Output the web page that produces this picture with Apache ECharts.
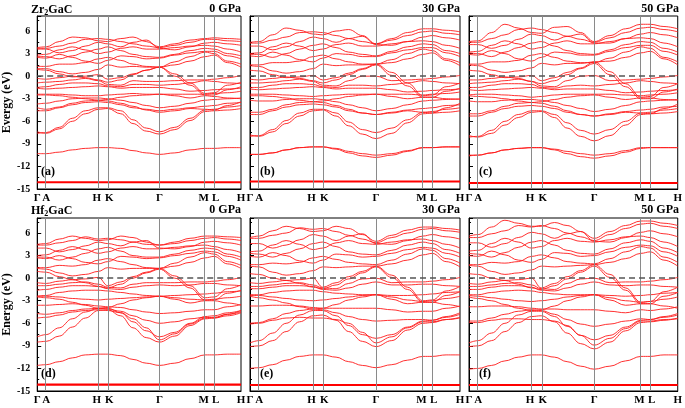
<!DOCTYPE html>
<html><head><meta charset="utf-8">
<script src="https://cdn.jsdelivr.net/npm/echarts@6/dist/echarts.min.js"></script>
<style>html,body{margin:0;padding:0;background:#fff}#c{width:685px;height:408px}</style>
</head><body><div id="c"></div>
<script>
// k-path sample positions (fraction of path) and high-symmetry labels
const kPos = [0, 0.044, 0.108, 0.172, 0.236, 0.30, 0.346, 0.41, 0.47, 0.535, 0.60, 0.675, 0.75, 0.824, 0.868, 0.934, 1.0];
const symPos = [0, 0.044, 0.30, 0.346, 0.60, 0.824, 0.868, 1];
const symLabels = ['Γ', 'A', 'H', 'K', 'Γ', 'M', 'L', 'H'];
const compounds = ['Zr', 'Hf'];
const pressures = ['0 GPa', '30 GPa', '50 GPa'];
const tags = ['(a)', '(b)', '(c)', '(d)', '(e)', '(f)'];
const yTitles = ['Evergy (eV)', 'Energy (eV)'];

// Zr2GaC 0 GPa
const zr0 = [
[3.8,3.9,4.6,5.2,5.1,4.7,4.6,5.0,5.2,4.6,3.9,4.3,4.8,5.0,5.1,5.0,4.9],
[3.7,3.7,4.0,4.4,4.9,5.0,4.9,4.6,4.3,4.0,3.8,4.1,4.5,4.9,4.9,4.7,4.6],
[3.6,3.6,3.1,3.4,4.0,4.5,4.3,3.9,4.5,4.8,3.7,3.5,3.9,4.4,4.5,4.3,4.1],
[2.8,2.9,3.5,3.9,3.5,3.0,3.2,3.7,3.9,3.6,3.6,3.8,4.0,4.1,4.0,3.6,3.2],
[2.6,2.6,2.3,2.7,3.2,3.6,3.9,3.4,2.9,2.6,2.5,2.9,3.4,3.7,3.6,3.0,2.7],
[2.5,2.4,2.9,2.5,2.0,1.7,2.1,2.7,2.6,2.3,2.4,2.8,3.1,3.3,3.3,2.7,2.3],
[1.3,1.3,1.6,1.6,1.8,2.3,2.5,2.1,1.6,1.3,1.2,1.9,2.6,3.2,3.0,2.0,1.6],
[1.0,1.0,0.6,0.3,0.5,0.9,1.5,1.2,1.3,1.2,1.2,1.5,2.0,2.6,2.8,1.8,1.2],
[0.9,0.8,0.3,-0.1,0.0,0.2,-0.4,-0.2,0.3,0.8,1.2,0.3,-0.9,-2.3,-2.2,-1.2,-0.8],
[-0.3,-0.4,-0.2,0.0,-0.2,-0.5,-0.8,-0.5,0.2,0.8,1.2,0.0,-1.2,-2.5,-2.5,-1.8,-1.4],
[-0.9,-0.8,-0.7,-0.5,-0.3,-0.6,-1.1,-1.2,-0.6,-0.7,-0.7,-0.6,-0.5,-0.5,-0.4,-0.2,0.1],
[-1.5,-1.4,-1.1,-0.9,-0.9,-1.0,-1.3,-1.4,-1.1,-1.1,-1.2,-1.1,-0.9,-0.6,-0.7,-0.9,-1.0],
[-1.6,-1.7,-1.6,-1.5,-1.4,-1.3,-1.4,-1.6,-1.5,-1.5,-1.5,-1.7,-2.0,-1.9,-1.8,-1.7,-1.6],
[-2.4,-2.4,-2.4,-2.5,-2.6,-2.6,-2.5,-2.4,-2.3,-2.4,-2.4,-2.4,-2.4,-2.4,-2.3,-2.2,-2.0],
[-2.5,-2.5,-2.6,-2.8,-3.0,-3.2,-3.1,-2.8,-2.6,-2.5,-2.4,-2.6,-2.9,-2.6,-2.7,-2.9,-3.0],
[-3.7,-3.6,-3.3,-3.0,-2.9,-2.9,-3.0,-3.2,-3.5,-3.9,-4.2,-4.0,-3.6,-3.2,-3.1,-3.0,-2.9],
[-4.2,-4.4,-4.1,-3.6,-3.3,-3.2,-3.3,-3.6,-4.0,-4.5,-4.8,-4.6,-4.3,-4.4,-4.5,-3.9,-3.4],
[-7.6,-7.5,-6.8,-5.6,-4.6,-4.2,-4.2,-4.6,-5.8,-6.9,-7.4,-6.8,-5.6,-4.5,-4.4,-4.1,-3.9],
[-7.4,-7.6,-7.0,-6.0,-5.0,-4.4,-4.3,-5.0,-6.3,-7.3,-7.7,-7.1,-5.9,-4.7,-4.6,-4.5,-4.3],
[-4.6,-4.6,-4.2,-3.8,-3.5,-3.4,-3.5,-3.8,-4.2,-4.4,-4.6,-4.4,-4.2,-4.0,-3.9,-3.6,-3.5],
[-10.3,-10.3,-10.1,-9.8,-9.6,-9.5,-9.5,-9.6,-9.9,-10.2,-10.4,-10.2,-9.8,-9.6,-9.6,-9.5,-9.5]
];
// Zr2GaC 30 GPa
const zr30 = [
[4.5,4.6,5.5,6.4,6.1,5.6,5.5,6.0,6.2,5.4,4.3,5.0,5.8,6.3,6.3,6.1,5.9],
[4.4,4.4,4.8,5.2,5.8,5.9,5.8,5.4,5.0,4.6,4.3,4.8,5.4,5.9,6.0,5.7,5.5],
[4.0,4.0,3.5,3.9,4.6,5.2,5.0,4.5,5.0,5.3,4.2,4.1,4.6,5.2,5.4,5.1,4.8],
[3.0,3.1,3.9,4.4,4.0,3.4,3.6,4.2,4.4,4.0,4.0,4.3,4.6,4.7,4.6,4.1,3.7],
[2.9,2.9,2.5,3.0,3.6,4.1,4.3,3.8,3.2,2.9,2.7,3.3,3.9,4.3,4.2,3.4,3.0],
[2.7,2.6,3.2,2.8,2.2,1.9,2.4,3.0,2.9,2.6,2.6,3.1,3.5,3.8,3.8,3.1,2.6],
[1.5,1.5,1.8,1.8,2.0,2.6,2.8,2.3,1.9,1.6,1.6,2.2,3.0,3.6,3.4,2.3,1.8],
[1.4,1.3,0.7,0.4,0.6,1.0,1.6,1.4,1.5,1.5,1.6,1.8,2.3,2.9,3.1,2.1,1.4],
[0.8,0.7,0.2,-0.2,-0.1,0.1,-0.5,-0.2,0.4,1.0,1.6,0.5,-0.9,-2.6,-2.5,-1.4,-0.9],
[-0.4,-0.5,-0.3,-0.1,-0.3,-0.6,-0.9,-0.5,0.2,0.9,1.5,0.1,-1.3,-2.8,-2.8,-2.0,-1.6],
[-0.9,-0.9,-0.8,-0.6,-0.4,-0.7,-1.2,-1.3,-0.6,0.0,0.0,-0.6,-0.5,-0.4,-0.3,-0.1,0.1],
[-1.5,-1.5,-1.2,-1.0,-1.0,-1.1,-1.4,-1.5,-1.2,-1.2,-1.3,-1.1,-0.9,-0.6,-0.7,-0.9,-1.0],
[-1.7,-1.8,-1.7,-1.6,-1.5,-1.4,-1.5,-1.7,-1.6,-1.6,-1.6,-1.8,-2.1,-2.0,-1.9,-1.8,-1.7],
[-2.4,-2.4,-2.4,-2.5,-2.6,-2.7,-2.6,-2.5,-2.4,-2.4,-2.4,-2.4,-2.4,-2.5,-2.4,-2.3,-2.1],
[-2.6,-2.6,-2.7,-2.9,-3.2,-3.4,-3.3,-3.0,-2.7,-2.5,-2.4,-2.7,-3.0,-2.8,-2.8,-3.0,-3.1],
[-3.2,-3.3,-3.3,-3.1,-3.0,-3.0,-3.1,-3.4,-3.8,-4.2,-4.6,-4.3,-3.8,-3.3,-3.2,-3.1,-3.0],
[-4.8,-4.8,-4.4,-3.8,-3.5,-3.4,-3.5,-3.9,-4.4,-4.9,-5.1,-4.9,-4.6,-4.8,-4.9,-4.2,-3.6],
[-8.0,-7.9,-7.1,-5.9,-4.9,-4.4,-4.4,-4.9,-6.1,-7.1,-7.5,-6.9,-5.8,-4.8,-4.7,-4.4,-4.2],
[-7.8,-8.0,-7.4,-6.3,-5.3,-4.6,-4.5,-5.3,-6.6,-7.7,-8.3,-7.6,-6.2,-5.0,-4.9,-4.8,-4.6],
[-5.1,-5.1,-4.6,-4.1,-3.8,-3.7,-3.8,-4.1,-4.6,-4.9,-5.1,-4.8,-4.5,-4.3,-4.2,-3.9,-3.8],
[-10.4,-10.4,-10.2,-9.8,-9.5,-9.4,-9.4,-9.6,-10.0,-10.3,-10.5,-10.3,-9.9,-9.5,-9.5,-9.4,-9.4],
[-10.4,-10.4,-10.2,-9.8,-9.5,-9.4,-9.4,-9.7,-10.2,-10.6,-10.8,-10.5,-10.0,-9.5,-9.5,-9.4,-9.4]
];
// Zr2GaC 50 GPa
const zr50 = [
[4.6,4.7,5.8,6.9,6.4,5.8,5.7,6.5,6.6,5.8,4.6,5.4,6.3,6.9,6.9,6.6,6.3],
[4.5,4.5,5.0,5.5,6.2,6.4,6.2,5.8,5.3,4.9,4.5,5.1,5.8,6.4,6.5,6.2,5.9],
[4.2,4.2,3.7,4.1,4.9,5.6,5.4,4.8,5.3,5.6,4.4,4.4,5.0,5.6,5.8,5.5,5.1],
[3.2,3.3,4.1,4.7,4.3,3.6,3.8,4.4,4.7,4.3,4.3,4.6,5.0,5.1,5.0,4.4,3.9],
[3.1,3.0,2.6,3.2,3.8,4.4,4.6,4.0,3.4,3.0,2.9,3.5,4.2,4.6,4.5,3.7,3.2],
[2.9,2.8,3.4,3.0,2.3,2.0,2.5,3.2,3.1,2.8,2.8,3.3,3.8,4.1,4.1,3.3,2.8],
[1.6,1.6,1.9,1.9,2.1,2.8,3.0,2.5,2.0,1.8,1.8,2.4,3.2,3.9,3.7,2.5,1.9],
[1.5,1.4,0.8,0.5,0.7,1.1,1.7,1.5,1.7,1.7,1.9,2.0,2.5,3.1,3.3,2.3,1.5],
[0.8,0.7,0.2,-0.2,-0.1,0.1,-0.6,-0.2,0.5,1.1,1.9,0.6,-1.0,-2.8,-2.7,-1.5,-1.0],
[-0.5,-0.5,-0.3,-0.1,-0.3,-0.7,-1.0,-0.6,0.2,1.0,1.7,0.2,-1.4,-3.0,-3.0,-2.1,-1.7],
[-1.0,-0.9,-0.8,-0.6,-0.4,-0.7,-1.3,-1.4,-0.6,0.0,0.1,-0.6,-0.5,-0.4,-0.3,-0.1,0.1],
[-1.5,-1.5,-1.2,-1.0,-1.0,-1.1,-1.5,-1.6,-1.3,-1.2,-1.3,-1.1,-0.9,-0.6,-0.7,-0.9,-1.0],
[-1.8,-1.9,-1.8,-1.7,-1.6,-1.5,-1.6,-1.8,-1.7,-1.7,-1.7,-1.9,-2.2,-2.1,-2.0,-1.9,-1.8],
[-2.5,-2.4,-2.4,-2.5,-2.6,-2.8,-2.7,-2.5,-2.4,-2.4,-2.4,-2.4,-2.5,-2.6,-2.5,-2.4,-2.2],
[-2.6,-2.7,-2.8,-3.0,-3.3,-3.5,-3.4,-3.1,-2.8,-2.6,-2.5,-2.8,-3.1,-2.9,-2.9,-3.1,-3.2],
[-3.3,-3.4,-3.4,-3.2,-3.1,-3.1,-3.2,-3.5,-3.9,-4.3,-4.7,-4.4,-3.9,-3.4,-3.3,-3.2,-3.1],
[-5.0,-5.0,-4.6,-4.0,-3.6,-3.5,-3.6,-4.0,-4.6,-5.1,-5.3,-5.1,-4.8,-4.9,-5.0,-4.3,-3.7],
[-8.1,-8.0,-7.2,-6.0,-5.1,-4.6,-4.6,-5.1,-6.2,-7.2,-7.7,-7.1,-6.0,-4.9,-4.8,-4.5,-4.3],
[-7.9,-8.1,-7.6,-6.5,-5.5,-4.8,-4.7,-5.5,-6.9,-8.0,-8.6,-7.9,-6.5,-5.1,-5.0,-4.9,-4.7],
[-5.3,-5.3,-4.8,-4.3,-4.0,-3.9,-4.0,-4.3,-4.8,-5.1,-5.3,-5.0,-4.7,-4.5,-4.4,-4.1,-4.0],
[-10.5,-10.5,-10.2,-9.8,-9.6,-9.5,-9.5,-9.7,-10.0,-10.3,-10.5,-10.3,-9.9,-9.5,-9.5,-9.5,-9.5],
[-10.6,-10.5,-10.2,-9.8,-9.6,-9.5,-9.5,-9.8,-10.3,-10.7,-10.9,-10.6,-10.1,-9.6,-9.5,-9.5,-9.5]
];
// Hf2GaC 0 GPa
const hf0 = [
[4.5,4.6,5.2,5.6,5.3,5.0,5.1,5.6,5.4,4.8,4.4,4.8,5.3,5.6,5.6,5.5,5.4],
[4.4,4.4,4.7,5.0,5.5,5.2,5.3,5.1,4.8,4.5,4.4,4.6,5.0,5.3,5.4,5.2,5.0],
[4.0,4.0,3.5,3.8,4.3,4.8,4.6,4.3,4.8,5.0,4.0,3.9,4.2,4.8,4.9,4.7,4.4],
[3.0,3.1,3.7,4.2,3.8,3.3,3.5,4.0,4.2,3.9,3.9,4.1,4.3,4.4,4.2,3.8,3.4],
[2.8,2.8,2.4,2.8,3.3,3.9,4.1,3.6,3.0,2.8,2.8,3.2,3.7,4.0,3.9,3.2,2.8],
[2.7,2.6,3.0,2.6,2.1,1.9,2.2,2.9,2.8,2.6,2.7,3.0,3.3,3.6,3.5,2.9,2.4],
[1.4,1.4,1.7,1.6,1.8,2.4,2.6,2.2,1.8,1.4,1.3,2.0,2.8,3.4,3.2,2.2,1.7],
[1.3,1.2,0.7,0.3,0.5,0.9,1.4,1.2,1.3,1.3,1.3,1.6,2.1,2.7,2.9,1.9,1.3],
[0.9,0.8,0.2,-0.2,-0.1,0.1,-1.0,-0.5,0.2,0.8,1.3,0.3,-1.0,-2.6,-2.5,-1.4,-0.9],
[-0.6,-0.7,-0.4,-0.2,-0.6,-1.1,-1.3,-0.8,0.0,0.7,1.2,0.0,-1.3,-2.9,-2.9,-2.0,-1.6],
[-1.0,-1.0,-0.8,-0.6,-0.5,-0.8,-1.2,-1.3,-0.8,-0.6,-0.6,-0.6,-0.5,-0.5,-0.4,-0.2,0.1],
[-1.6,-1.5,-1.2,-1.0,-1.0,-1.1,-1.4,-1.5,-1.2,-1.0,-0.9,-1.0,-0.9,-0.7,-0.7,-0.9,-1.0],
[-2.4,-2.3,-1.9,-1.7,-1.6,-1.6,-1.7,-1.9,-2.1,-2.3,-2.4,-2.3,-2.2,-2.1,-2.0,-1.8,-1.7],
[-2.4,-2.4,-2.5,-2.7,-2.8,-2.9,-2.8,-2.7,-2.6,-2.5,-2.4,-2.6,-2.8,-2.9,-2.8,-2.6,-2.4],
[-2.5,-2.6,-2.8,-3.2,-3.6,-4.0,-3.9,-3.4,-2.9,-2.6,-2.4,-2.8,-3.3,-3.0,-3.0,-3.3,-3.6],
[-3.6,-3.6,-3.5,-3.4,-3.5,-3.7,-3.8,-3.9,-4.2,-4.5,-4.7,-4.6,-4.4,-4.2,-4.2,-3.8,-3.5],
[-4.7,-4.8,-4.6,-4.3,-4.1,-4.0,-4.1,-4.4,-5.0,-5.6,-6.0,-5.8,-5.4,-5.2,-5.3,-4.8,-4.3],
[-7.8,-7.5,-6.6,-5.4,-4.5,-4.0,-4.0,-4.6,-5.8,-7.0,-7.8,-7.2,-6.0,-5.1,-5.0,-4.6,-4.3],
[-8.5,-8.4,-7.7,-6.5,-5.3,-4.3,-4.2,-5.0,-6.6,-7.9,-8.5,-7.7,-6.3,-5.4,-5.3,-5.0,-4.6],
[-5.3,-5.2,-4.9,-4.5,-4.3,-4.2,-4.3,-4.6,-5.4,-6.6,-8.2,-7.4,-6.1,-5.3,-5.2,-4.8,-4.5],
[-11.6,-11.5,-11.1,-10.6,-10.2,-10.1,-10.1,-10.3,-10.8,-11.3,-11.6,-11.3,-10.7,-10.2,-10.2,-10.1,-10.1]
];
// Hf2GaC 30 GPa
const hf30 = [
[5.4,5.6,6.3,6.9,6.6,6.2,6.3,6.9,6.6,5.8,4.9,5.7,6.4,6.8,6.8,6.6,6.4],
[5.3,5.3,5.7,6.0,6.7,6.5,6.6,6.2,5.7,5.2,4.7,5.4,6.0,6.5,6.6,6.3,6.1],
[4.6,4.6,4.0,4.4,5.1,5.8,5.6,5.0,5.6,5.9,4.6,4.5,5.0,5.6,5.8,5.5,5.2],
[3.5,3.6,4.4,5.0,4.5,3.8,4.0,4.7,5.0,4.6,4.5,4.8,5.1,5.2,5.0,4.5,4.0],
[3.3,3.2,2.8,3.3,3.9,4.6,4.8,4.2,3.5,3.2,3.1,3.7,4.4,4.8,4.6,3.8,3.3],
[2.9,2.8,3.4,3.0,2.3,2.0,2.4,3.2,3.1,2.8,2.9,3.3,3.8,4.1,4.0,3.3,2.8],
[1.8,1.8,2.0,1.9,2.1,2.7,2.9,2.5,2.1,1.9,1.8,2.4,3.2,3.9,3.7,2.6,2.0],
[1.6,1.5,0.8,0.4,0.6,1.0,1.5,1.4,1.5,1.6,1.6,1.9,2.4,3.1,3.3,2.2,1.5],
[0.6,0.5,0.0,-0.3,-0.2,0.0,-1.2,-0.6,0.2,0.9,1.6,0.4,-1.2,-3.0,-2.9,-1.7,-1.1],
[-0.6,-0.7,-0.5,-0.3,-0.7,-1.2,-1.4,-0.9,-0.1,0.7,1.5,0.1,-1.5,-3.2,-3.2,-2.3,-1.8],
[-1.1,-1.1,-0.9,-0.7,-0.6,-0.9,-1.3,-1.4,-0.7,-0.1,0.0,-0.6,-0.5,-0.5,-0.4,-0.2,0.1],
[-1.4,-1.4,-1.2,-1.0,-1.0,-1.1,-1.5,-1.6,-1.3,-0.8,-0.5,-0.9,-0.9,-0.8,-0.8,-1.0,-1.1],
[-2.2,-2.2,-1.9,-1.7,-1.6,-1.6,-1.8,-2.0,-2.1,-2.2,-2.2,-2.3,-2.3,-2.2,-2.1,-1.9,-1.8],
[-2.3,-2.3,-2.5,-2.7,-2.9,-3.0,-2.9,-2.7,-2.5,-2.3,-2.2,-2.5,-2.9,-3.1,-3.0,-2.7,-2.4],
[-2.4,-2.6,-2.9,-3.3,-3.8,-4.1,-4.0,-3.5,-2.9,-2.5,-2.2,-2.8,-3.4,-3.2,-3.2,-3.5,-3.8],
[-3.7,-3.7,-3.6,-3.6,-3.7,-3.9,-4.0,-4.0,-4.0,-4.0,-4.0,-4.2,-4.5,-4.4,-4.4,-4.0,-3.7],
[-6.0,-5.9,-5.4,-4.7,-4.3,-4.1,-4.2,-4.6,-5.1,-5.5,-5.7,-5.6,-5.5,-5.5,-5.6,-5.1,-4.6],
[-8.6,-8.3,-7.3,-6.0,-4.9,-4.3,-4.3,-5.0,-6.3,-7.5,-8.0,-7.5,-6.5,-5.7,-5.6,-5.2,-4.8],
[-9.1,-9.0,-8.3,-7.1,-5.8,-5.0,-4.9,-5.6,-7.1,-8.4,-9.1,-8.3,-6.9,-6.0,-5.9,-5.5,-5.2],
[-6.1,-6.0,-5.6,-5.3,-5.2,-5.3,-5.3,-5.5,-6.0,-7.2,-8.6,-7.8,-6.6,-5.8,-5.8,-5.5,-5.3],
[-12.0,-11.9,-11.5,-10.9,-10.4,-10.2,-10.2,-10.5,-11.1,-11.6,-11.9,-11.5,-10.9,-10.4,-10.4,-10.2,-10.2]
];
// Hf2GaC 50 GPa
const hf50 = [
[5.6,5.8,6.8,7.7,7.3,6.9,6.9,7.4,7.0,6.2,5.3,6.2,7.0,7.6,7.6,7.3,7.0],
[5.4,5.4,5.9,6.3,7.0,6.8,7.0,6.6,6.0,5.5,5.0,5.8,6.6,7.2,7.3,6.9,6.6],
[4.7,4.7,4.1,4.6,5.4,6.1,5.9,5.3,5.9,6.2,4.9,4.8,5.4,6.1,6.3,5.9,5.5],
[3.6,3.7,4.6,5.3,4.8,4.0,4.2,5.0,5.3,4.9,4.8,5.1,5.5,5.6,5.4,4.8,4.2],
[3.3,3.2,2.8,3.4,4.1,4.8,5.0,4.4,3.7,3.3,3.2,3.9,4.7,5.1,4.9,4.0,3.4],
[3.0,2.9,3.6,3.1,2.4,2.1,2.5,3.4,3.3,2.9,3.0,3.5,4.1,4.4,4.3,3.5,2.9],
[1.8,1.8,2.1,2.0,2.2,2.9,3.1,2.7,2.2,2.0,1.9,2.6,3.5,4.2,4.0,2.8,2.1],
[1.7,1.6,0.9,0.5,0.7,1.1,1.6,1.5,1.6,1.7,1.8,2.1,2.6,3.3,3.5,2.4,1.6],
[0.6,0.5,0.0,-0.3,-0.2,0.0,-1.3,-0.7,0.2,1.0,1.8,0.5,-1.3,-3.2,-3.1,-1.8,-1.2],
[-0.7,-0.8,-0.5,-0.3,-0.8,-1.3,-1.5,-1.0,-0.1,0.8,1.6,0.1,-1.6,-3.4,-3.4,-2.4,-1.9],
[-1.1,-1.1,-0.9,-0.7,-0.6,-0.9,-1.4,-1.5,-0.7,-0.1,0.0,-0.6,-0.5,-0.5,-0.4,-0.2,0.1],
[-1.5,-1.5,-1.2,-1.0,-1.0,-1.2,-1.6,-1.7,-1.3,-0.8,-0.5,-0.9,-1.0,-0.9,-0.9,-1.1,-1.2],
[-2.2,-2.2,-1.9,-1.7,-1.6,-1.7,-1.9,-2.1,-2.2,-2.2,-2.2,-2.3,-2.4,-2.3,-2.2,-2.0,-1.9],
[-2.3,-2.4,-2.6,-2.8,-3.0,-3.1,-3.0,-2.8,-2.5,-2.3,-2.2,-2.6,-3.0,-3.2,-3.1,-2.8,-2.5],
[-2.5,-2.7,-3.0,-3.5,-4.0,-4.3,-4.2,-3.7,-3.0,-2.5,-2.2,-2.9,-3.6,-3.4,-3.4,-3.7,-4.0],
[-3.8,-3.8,-3.7,-3.7,-3.8,-4.0,-4.1,-4.1,-4.2,-4.2,-4.2,-4.4,-4.6,-4.2,-4.3,-4.1,-3.8],
[-5.7,-5.7,-5.3,-4.8,-4.4,-4.2,-4.3,-4.8,-5.5,-6.1,-6.4,-6.1,-5.7,-5.4,-5.5,-5.1,-4.7],
[-8.6,-8.3,-7.3,-6.0,-4.9,-4.4,-4.4,-5.1,-6.4,-7.6,-8.2,-7.6,-6.5,-5.6,-5.5,-5.2,-4.9],
[-9.1,-9.0,-8.3,-7.1,-5.9,-5.1,-5.0,-5.8,-7.3,-8.7,-9.4,-8.5,-7.0,-5.9,-5.8,-5.6,-5.3],
[-5.9,-5.9,-5.6,-5.4,-5.4,-5.5,-5.5,-5.7,-6.3,-7.6,-8.9,-8.0,-6.7,-5.7,-5.7,-5.5,-5.4],
[-12.1,-12.0,-11.6,-11.0,-10.5,-10.2,-10.2,-10.5,-11.1,-11.7,-12.1,-11.7,-11.0,-10.4,-10.4,-10.2,-10.2]
];
// deep semicore (flat) bands
const zr0Core  = [-14.1,-14.1,-14.1,-14.1,-14.1,-14.1,-14.1,-14.1,-14.1,-14.1,-14.1,-14.1,-14.1,-14.1,-14.1,-14.1,-14.1];
const zr30Core = [-14.0,-14.0,-14.0,-14.0,-14.0,-14.0,-14.0,-14.0,-14.0,-14.0,-14.0,-14.0,-14.0,-14.0,-14.0,-14.0,-14.0];
const zr50Core = [-14.2,-14.2,-14.2,-14.2,-14.2,-14.2,-14.2,-14.2,-14.2,-14.2,-14.2,-14.2,-14.2,-14.2,-14.2,-14.2,-14.2];
const hf0Core  = [-14.15,-14.15,-14.15,-14.15,-14.15,-14.15,-14.15,-14.15,-14.15,-14.15,-14.15,-14.15,-14.15,-14.15,-14.15,-14.15,-14.15];
const hf30Core = [-14.2,-14.2,-14.2,-14.2,-14.2,-14.2,-14.2,-14.2,-14.2,-14.2,-14.2,-14.2,-14.2,-14.2,-14.2,-14.2,-14.2];
const hf50Core = [-14.2,-14.2,-14.2,-14.2,-14.2,-14.2,-14.2,-14.2,-14.2,-14.2,-14.2,-14.2,-14.2,-14.2,-14.2,-14.2,-14.2];

const panelBands = [zr0, zr30, zr50, hf0, hf30, hf50];
const panelCores = [zr0Core, zr30Core, zr50Core, hf0Core, hf30Core, hf50Core];

const FONT = '"Liberation Serif","Times New Roman",serif';
const lefts = [31, 250, 469];
const tops = [16, 218];
const W = 210, H = 173;
// label nudges so adjacent symbols (H K, M L) stay separated
const labelStyle = ['c', 'c', 'l', 'r', 'c', 'l', 'r', 'c'];

const grids = [], xAxes = [], yAxes = [], series = [], titles = [];
const lblBase = {fontFamily: FONT, fontWeight: 'bold', fontSize: 11, color: '#000'};
for (let p = 0; p < 6; p++) {
  const row = Math.floor(p / 3), col = p % 3;
  grids.push({left: lefts[col], top: tops[row], width: W, height: H, show: true, borderColor: '#000', borderWidth: 1, backgroundColor: 'transparent'});
  xAxes.push({
    gridIndex: p, type: 'value', min: 0, max: 1,
    axisLine: {show: true, onZero: false, lineStyle: {color: '#000', width: 1}},
    axisTick: {show: false}, splitLine: {show: false},
    axisLabel: {customValues: symPos, hideOverlap: false, margin: 4,
      formatter: v => { const i = symPos.indexOf(v); return i < 0 ? '' : '{' + labelStyle[i] + '|' + symLabels[i] + '}'; },
      rich: {c: Object.assign({}, lblBase), l: Object.assign({padding: [0, 3, 0, 0]}, lblBase), r: Object.assign({padding: [0, 0, 0, 3]}, lblBase)}}
  });
  yAxes.push({
    gridIndex: p, type: 'value', min: -15, max: 8, interval: 3,
    name: col === 0 ? yTitles[row] : '', nameLocation: 'middle', nameGap: 20,
    nameTextStyle: {fontFamily: FONT, fontWeight: 'bold', fontSize: 12, color: '#000'},
    axisLine: {show: true, onZero: false, lineStyle: {color: '#000', width: 1}},
    axisTick: {show: true, inside: true, length: 4, lineStyle: {color: '#000'}},
    minorTick: {show: true, splitNumber: 2, length: 2, lineStyle: {color: '#000'}},
    splitLine: {show: false},
    axisLabel: {show: col === 0, showMaxLabel: false, color: '#000', fontFamily: FONT, fontWeight: 'bold', fontSize: 10, margin: 7}
  });
  series.push({
    type: 'line', xAxisIndex: p, yAxisIndex: p, data: [], silent: true, z: 1,
    markLine: {silent: true, symbol: 'none', animation: false, label: {show: false},
      data: [1, 2, 3, 4, 5, 6].map(i => ({xAxis: symPos[i], lineStyle: {color: '#8a8a8a', width: 1, type: 'solid'}}))}
  });
  panelBands[p].forEach(b => {
    series.push({type: 'line', xAxisIndex: p, yAxisIndex: p, silent: true, z: 2,
      data: b.map((v, i) => [kPos[i], v]), showSymbol: false, symbol: 'none',
      smooth: 0.4, smoothMonotone: 'x', lineStyle: {color: '#ff1a1a', width: 0.9}});
  });
  series.push({type: 'line', xAxisIndex: p, yAxisIndex: p, silent: true, z: 2,
    data: panelCores[p].map((v, i) => [kPos[i], v]), showSymbol: false, symbol: 'none',
    lineStyle: {color: '#ff0000', width: 2.2}});
  series.push({
    type: 'line', xAxisIndex: p, yAxisIndex: p, data: [], silent: true, z: 3,
    markLine: {silent: true, symbol: 'none', animation: false, label: {show: false},
      data: [{yAxis: 0, lineStyle: {color: '#555', width: 1.6, type: [6, 4]}}]}
  });
  titles.push({text: pressures[col], right: 685 - (lefts[col] + W), top: row === 0 ? 3 : 204,
    textStyle: {fontFamily: FONT, fontWeight: 'bold', fontSize: 12, color: '#000'}, padding: 0});
  titles.push({text: tags[p], left: lefts[col] + 10, top: row === 0 ? 166 : 368,
    textStyle: {fontFamily: FONT, fontWeight: 'bold', fontSize: 12, color: '#000'}, padding: 0});
}
[0, 1].forEach(r => {
  titles.push({text: '{b|' + compounds[r] + '}{s|2}{b|GaC}', left: 31, top: r === 0 ? 3 : 204, padding: 0,
    textStyle: {rich: {b: {fontFamily: FONT, fontWeight: 'bold', fontSize: 12, color: '#000'},
      s: {fontFamily: FONT, fontWeight: 'bold', fontSize: 8, color: '#000', padding: [6, 0, 0, 0]}}}});
});

const chart = echarts.init(document.getElementById('c'), null, {renderer: 'canvas'});
chart.setOption({animation: false, backgroundColor: '#fff', title: titles, grid: grids, xAxis: xAxes, yAxis: yAxes, series: series});
</script></body></html>
